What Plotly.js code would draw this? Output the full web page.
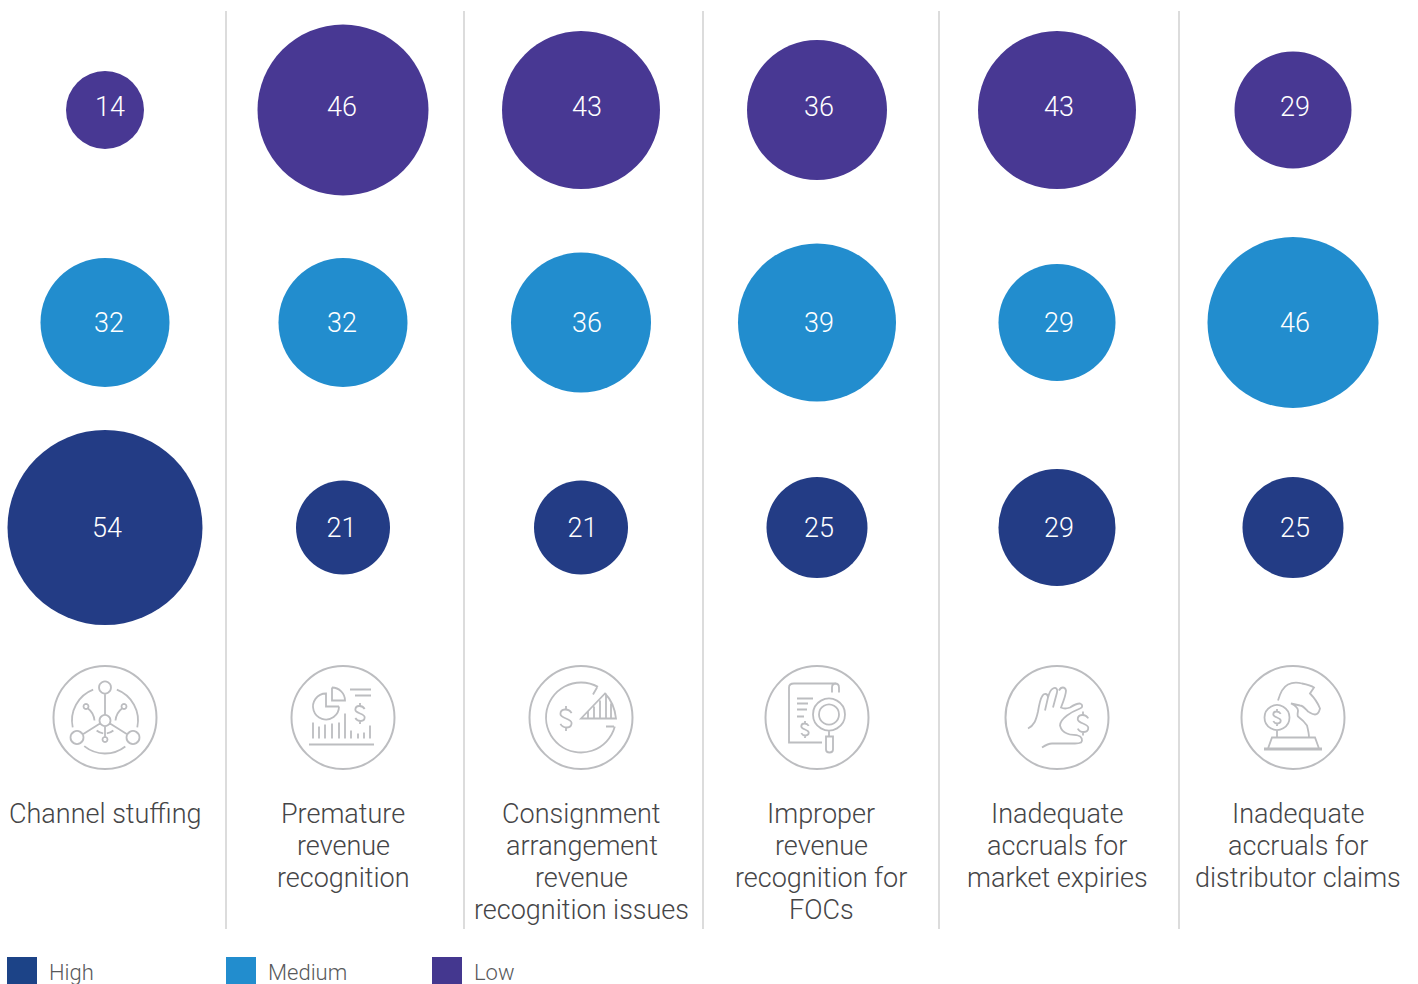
<!DOCTYPE html>
<html>
<head>
<meta charset="utf-8">
<script src="https://cdn.plot.ly/plotly-3.0.1.min.js"></script>
<style>html,body{margin:0;padding:0;background:#fff;overflow:hidden}#chart{width:1418px;height:984px}</style>
</head>
<body>
<div id="chart"></div>
<script>
// Respondent shares per issue and rating
const categories = [
  "Channel stuffing",
  "Premature|revenue|recognition",
  "Consignment|arrangement|revenue|recognition issues",
  "Improper|revenue|recognition for|FOCs",
  "Inadequate|accruals for|market expiries",
  "Inadequate|accruals for|distributor claims"
];
const highValues   = [54, 21, 21, 25, 29, 25];
const mediumValues = [32, 32, 36, 39, 29, 46];
const lowValues    = [14, 46, 43, 36, 43, 29];

// Drawing scale: bubble diameter in pixels for each stated value
const bubbleScale = {14:78, 21:94, 25:101, 29:117, 32:129, 36:140, 39:158, 43:158, 46:171, 54:195};

// Layout geometry, in page pixels
const columnX = [105, 343, 581, 817, 1057, 1293];
const labelX  = {low:[110,342,587,819,1059,1295], medium:[109,342,587,819,1059,1295], high:[107,341.5,582.5,819,1059,1295]};
const rowY = {low:110, medium:322.5, high:527.5};
const textY = {low:109.5, medium:325.5, high:530.5};
const captionX = [105, 343, 581.5, 821, 1057, 1298];
const separators = [226, 464, 703, 939, 1179];

const colors = {high:"#233c85", medium:"#228dce", low:"#483893"};
const swatch = {high:"#1c4387", medium:"#228dce", low:"#44378f"};
const FONT = "Roboto, 'Liberation Sans', sans-serif";
const ICON_GREY = "#bcbdc0";
const ICON_Y = 717.5;

function bubbleTrace(name, values, key) {
  return {
    type:"scatter", mode:"markers", name, x:columnX, y:values.map(()=>rowY[key]),
    marker:{color:colors[key], opacity:1, size:values.map(v=>bubbleScale[v]), sizemode:"diameter", line:{width:0}},
    hoverinfo:"skip", showlegend:false
  };
}
function valueTrace(values, key) {
  return {
    type:"scatter", mode:"text", x:labelX[key], y:values.map(()=>textY[key]),
    text:values.map(String), textposition:"middle center",
    textfont:{family:FONT, size:27, color:"#ffffff", weight:300},
    hoverinfo:"skip", showlegend:false
  };
}

// Icon path helpers: angles in degrees, clockwise on screen from +x
function arc(cx, cy, r, a0, a1, join) {
  const n = Math.max(1, Math.ceil(Math.abs(a1 - a0) / 60));
  const step = (a1 - a0) / n * Math.PI / 180;
  const k = 4 / 3 * Math.tan(step / 4);
  let a = a0 * Math.PI / 180;
  const pt = (t) => [cx + r * Math.cos(t), cy + r * Math.sin(t)];
  let s = (join ? "L" : "M") + pt(a).map(v => v.toFixed(2)).join(",");
  for (let i = 0; i < n; i++) {
    const b = a + step, p0 = pt(a), p1 = pt(b);
    const c = [p0[0] - k * r * Math.sin(a), p0[1] + k * r * Math.cos(a), p1[0] + k * r * Math.sin(b), p1[1] - k * r * Math.cos(b), p1[0], p1[1]];
    s += " C" + c.map(v => v.toFixed(2)).join(",");
    a = b;
  }
  return s + " ";
}
const circ = (x, y, r) => arc(x, y, r, 0, 360);
const seg = (x0, y0, x1, y1) => `M${x0},${y0} L${x1},${y1} `;
function dollar(x, y, H) {
  const w = H * 0.62;
  const f = (dx, dy) => `${(x + dx).toFixed(2)},${(y + dy).toFixed(2)}`;
  return `M${f(w, -0.6*H)} C${f(w*0.5, -1.15*H)} ${f(-w, -1.15*H)} ${f(-w, -0.5*H)} ` +
         `C${f(-w, 0)} ${f(w, 0)} ${f(w, 0.5*H)} C${f(w, 1.15*H)} ${f(-w*0.5, 1.15*H)} ${f(-w, 0.6*H)} ` +
         `M${f(0, -1.4*H)} L${f(0, -H)} M${f(0, H)} L${f(0, 1.4*H)} `;
}
function bars(xs, tops, bottom) {
  return xs.map((x, i) => seg(x, tops[i], x, bottom)).join("");
}

// Thin line icons, each drawn around its own centre
const iconPaths = [
  // hub and spokes
  circ(0,-30,6) + circ(-28,20,6.5) + circ(28,20,6.5) + circ(0,3,5.5) + circ(-19,-11,2.5) + circ(19,-11,2.5) + circ(0,22,2.5) +
  seg(0,-24,0,-2.5) + seg(-22.5,17,-5,6) + seg(22.5,17,5,6) + seg(0,8.5,0,19.5) +
  "M-17,-9 C-13,-6 -11,-2 -10.5,3 M17,-9 C13,-6 11,-2 10.5,3 " +
  arc(0,3,13,50,82) + arc(0,3,13,98,130) +
  arc(0,3,33,168,249) + arc(0,3,33,291,372) + arc(0,3,33,52,129),
  // pie, bars and dollar
  arc(-17,-11,13,0,270) + "L-17,-11 L-4,-11 " +
  "M-11,-30 L-11,-17 L2,-17 " + arc(-11,-17,13,0,-90,true) +
  seg(7,-28,28,-28) + seg(12,-22,28,-22) + dollar(17,-4,7.5) +
  bars([-30,-24,-18,-11,-4,2,8,15,21,27], [5,9,7,6,5,-4,13,16,15,8], 21) + seg(-34,27,31,27),
  // ring with wedge and dollar
  arc(0,0,35,15,299) + seg(16,-30,12,-23) + seg(33,9,25,9) +
  "M0,1 L24,-24 C30,-18 34,-8 35,1 Z " +
  bars([7,13,19,25,30], [-6,-11,-17,-24,-14], 1) + dollar(-15,1,9),
  // document with lens
  "M5,25 L-28,25 L-28,-30 C-28,-33 -26,-34 -23,-34 L18,-34 C21,-34 22,-32 22,-30 L22,-25 " +
  "M15,-25 L15,-30 C15,-33 17,-34 19,-34 " +
  seg(-20,-19,-4,-19) + seg(-20,-14,-9,-14) + seg(-20,-8,-10,-8) + seg(-20,-1,-13,-1) + dollar(-12,12,6) +
  circ(12,-3,16) + circ(12,-3,10) + seg(12,13,12,19) +
  "M9,19 L16,19 L16,32 C16,36 9,36 9,32 Z",
  // hand pinching a coin
  "M-29,11 C-23,8 -21,3 -19,-6 C-18,-12 -17,-18 -15,-21 C-13,-25 -9,-24 -9,-20 L-12,-7 " +
  "M-9,-20 C-8,-24 -6,-28 -4,-29 C-1,-31 1,-28 0,-25 L-4,-10 " +
  "M2,-27 C4,-31 8,-31 9,-27 C9,-23 6,-15 4,-10 C8,-8 10,-9 13,-10 C16,-12 20,-14 23,-14 C26,-13 26,-10 23,-9 " +
  "C18,-7 14,-5 10,-2 C6,1 3,5 3,8 C4,12 7,15 10,16 C14,18 18,17 21,18 C25,19 26,23 24,25 C22,26 20,26 18,26 L-5,26 C-9,26 -12,28 -15,30 " +
  dollar(26,6,8.5),
  // chess knight with coin
  "M-15,-17 C-13,-24 -9,-31 -5,-33 C1,-36 5,-35 9,-34 C14,-33 18,-32 21,-30 L17,-24 C21,-20 25,-14 27,-9 C26,-5 24,-3 22,-3 C19,-3 17,-5 15,-6 " +
  "C12,-9 10,-12 7,-12 L-2,-14 C2,-12 5,-10 5,-7 C5,-5 4,-3 5,-1 C9,2 12,5 14,8 C15,12 16,16 16,20 " +
  circ(-16,0,12.5) + dollar(-16,0,6) + seg(-16,13,-16,20) +
  "M-25,31 L-21,20 L22,20 L26,31 " + seg(-29,31,29,31) + seg(-29,32,29,32)
];

// Translates an icon's relative path to page pixels
function placePath(d, cx, cy) {
  const out = []; const toks = d.match(/[A-Z]|-?\d+\.?\d*/g); let i = 0;
  while (i < toks.length) {
    const c = toks[i++]; out.push(c);
    const n = {M:2, L:2, C:6}[c] || 0;
    if (!n) continue;
    while (i < toks.length && !/[A-Z]/.test(toks[i])) {
      const vals = toks.slice(i, i + n).map(Number); i += n;
      for (let k = 0; k < n; k += 2) { vals[k] = +(vals[k] + cx).toFixed(2); vals[k + 1] = +(vals[k + 1] + cy).toFixed(2); }
      out.push(vals.join(","));
    }
  }
  return out.join(" ");
}

const shapes = [];
separators.forEach(x => shapes.push({type:"line", xref:"x", yref:"y", x0:x, x1:x, y0:11, y1:929, line:{color:"#d1d1d1", width:1.5}}));
columnX.forEach(x => shapes.push({type:"circle", xref:"x", yref:"y", x0:x-51.5, x1:x+51.5, y0:ICON_Y-51.5, y1:ICON_Y+51.5, line:{color:ICON_GREY, width:2}, layer:"below"}));
iconPaths.forEach((d, i) => shapes.push({type:"path", xref:"x", yref:"y", path:placePath(d, columnX[i], ICON_Y), line:{color:ICON_GREY, width:1.8}, layer:"below"}));

// Legend entries along the bottom edge
const legendItems = [
  {name:"High", key:"high", x:22},
  {name:"Medium", key:"medium", x:241},
  {name:"Low", key:"low", x:447}
];
legendItems.forEach(l => shapes.push({type:"rect", xref:"x", yref:"y", x0:l.x-15, x1:l.x+15, y0:957, y1:990, fillcolor:swatch[l.key], line:{width:0}}));

// Category captions, one annotation per line for the tight leading
const captionLines = [];
categories.forEach((c, i) => c.split("|").forEach((line, j) => captionLines.push({
  xref:"x", yref:"y", x:captionX[i], y:814 + j * 32, yanchor:"middle", xanchor:"center", showarrow:false, align:"center",
  text:line, font:{family:FONT, size:27, color:"#454547", weight:300}
})));

const annotations = captionLines.concat(legendItems.map(l => ({
  xref:"x", yref:"y", x:l.x+25, y:972, xanchor:"left", yanchor:"middle", showarrow:false,
  text:l.name, font:{family:FONT, size:22, color:"#58595b", weight:300}
})));

const layout = {
  width:1418, height:984, margin:{l:0, r:0, t:0, b:0},
  paper_bgcolor:"#fff", plot_bgcolor:"#fff",
  xaxis:{range:[0,1418], visible:false, fixedrange:true},
  yaxis:{range:[984,0], visible:false, fixedrange:true},
  shapes, annotations, showlegend:false
};

Plotly.newPlot("chart", [
  bubbleTrace("Low", lowValues, "low"),
  bubbleTrace("Medium", mediumValues, "medium"),
  bubbleTrace("High", highValues, "high"),
  valueTrace(lowValues, "low"),
  valueTrace(mediumValues, "medium"),
  valueTrace(highValues, "high")
], layout, {displayModeBar:false, staticPlot:true});
</script>
</body>
</html>
